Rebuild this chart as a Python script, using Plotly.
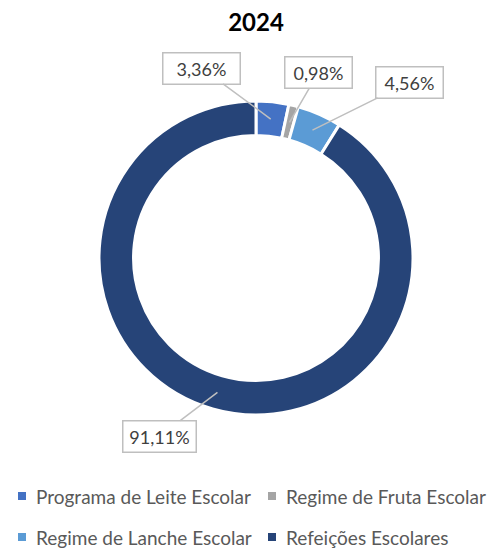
import math
import plotly.graph_objects as go

W, H = 493, 548

categories = ['Programa de Leite Escolar', 'Regime de Fruta Escolar',
              'Regime de Lanche Escolar', 'Refeições Escolares']
values = [3.36, 0.98, 4.56, 91.11]
colors = ['#4472C4', '#A5A5A5', '#5B9BD5', '#264478']
title_text = '2024'

FONT = 'Lato, Open Sans, sans-serif'

# donut geometry (pixels)
cx, cy = 256, 258
r_out = 157
hole = 0.78
r_mid = r_out * (1 + hole) / 2

# callout label offsets from the slice anchor and box widths (pixels)
offsets = [(-69, -51), (29, -50), (97, -48), (-58, 44)]
box_w = [70, 60, 60, 66]

# legend layout (pixels): marker left x, row centre y
legend_pos = [(18, 496), (268, 496), (18, 537), (268, 537)]

fig = go.Figure()
fig.add_trace(go.Pie(
    labels=categories,
    values=values,
    marker=dict(colors=colors, line=dict(color='white', width=3)),
    hole=hole,
    sort=False,
    direction='clockwise',
    rotation=0,
    textinfo='none',
    hoverinfo='label+percent',
    showlegend=False,
    domain=dict(x=[(cx - r_out) / W, (cx + r_out) / W],
                y=[1 - (cy + r_out) / H, 1 - (cy - r_out) / H]),
))

# callout labels
total = sum(values)
cum = 0
for v, (ax, ay), bw in zip(values, offsets, box_w):
    mid = (cum + v / 2) / total
    cum += v
    ang = 2 * math.pi * mid
    px = cx + r_mid * math.sin(ang)
    py = cy - r_mid * math.cos(ang)
    fig.add_annotation(
        x=px / W, y=1 - py / H, xref='paper', yref='paper',
        text=f'{v:.2f}'.replace('.', ',') + '%',
        showarrow=True, arrowhead=0, arrowwidth=1.5, arrowcolor='#BFBFBF',
        ax=ax, ay=ay, width=bw, height=24,
        bordercolor='#BFBFBF', borderwidth=1.5, borderpad=3, bgcolor='white',
        font=dict(family=FONT, size=18, color='#404040'),
    )

# legend drawn by hand so it doesn't push the margins
for name, col, (lx, ly) in zip(categories, colors, legend_pos):
    fig.add_shape(type='rect', xref='paper', yref='paper',
                  x0=lx / W, x1=(lx + 8) / W,
                  y0=1 - (ly + 4) / H, y1=1 - (ly - 4) / H,
                  fillcolor=col, line_width=0)
    fig.add_annotation(x=(lx + 16) / W, y=1 - ly / H, xref='paper', yref='paper',
                       text=name, showarrow=False, xanchor='left', yanchor='middle',
                       font=dict(family=FONT, size=19, color='#595959'))

fig.update_layout(
    width=W, height=H,
    margin=dict(l=0, r=0, t=0, b=0),
    paper_bgcolor='white',
    font=dict(family=FONT),
    showlegend=False,
    title=dict(text=f'<b>{title_text}</b>', x=256 / W, xanchor='center',
               y=1 - 23 / H, yanchor='middle',
               font=dict(family=FONT, size=24, color='black')),
)

# drop the default body margin so the figure sits at the window's corner
fig.write_html('out.html', config={'displayModeBar': False},
               post_script="document.body.style.margin='0';")
